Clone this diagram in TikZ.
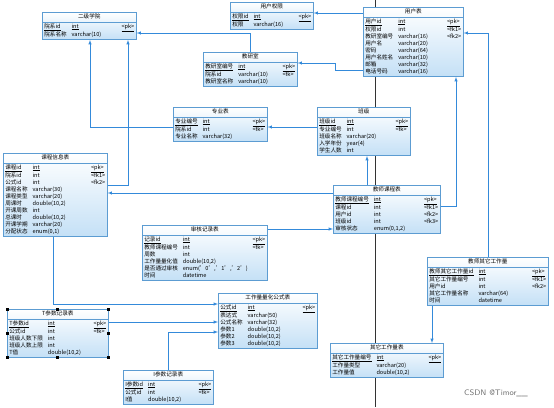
\documentclass[tikz,border=0pt]{standalone}
\usepackage{fontspec}
\setmainfont{Noto Sans CJK SC}
\usepackage{tikz}
\usetikzlibrary{shapes.multipart,arrows}

\definecolor{boxline}{RGB}{92,156,210}
\definecolor{boxfill}{RGB}{196,224,246}
\definecolor{linkblue}{RGB}{52,138,218}

\newcommand{\pkrow}[2]{\underline{#1} & \underline{#2} & \underline{<pk>}\\}
\newcommand{\fields}[1]{\begin{tabular*}{\linewidth}{@{}l@{\hspace{5pt}}l@{\extracolsep{\fill}}l@{}}#1\end{tabular*}}

\begin{document}
\begin{tikzpicture}[
    x=1pt, y=-1pt,
    entity/.style = {rectangle split, rectangle split parts=2, draw=boxline, line width=0.6pt,
        top color=white, bottom color=boxfill, anchor=north west, align=center,
        inner xsep=2pt, inner ysep=1pt, font=\fontsize{5.6}{7}\selectfont},
    fk/.style = {draw=linkblue, line width=0.5pt, -latex},
    handle/.style = {fill=black}
]
    \useasboundingbox (0,0) rectangle (554,407);
    % page border line
    \draw[black!80, line width=0.5pt] (375,0) -- (375,407);

    \node[entity, text width=90pt] (xueyuan) at (42,12) {\strut 二级学院
        \nodepart{two}\fields{\pkrow{院系id}{int}
        院系名称 & varchar(10) & \\}};
    \node[entity, text width=79pt] (quanxian) at (230,2) {\strut 用户权限
        \nodepart{two}\fields{\pkrow{权限id}{int}
        权限 & varchar(16) & \\}};
    \node[entity, text width=96pt] (yonghu) at (363,7) {\strut 用户表
        \nodepart{two}\fields{\pkrow{用户id}{int}
        权限id & int & <fk1>\\
        教研室编号 & varchar(16) & <fk2>\\
        用户名 & varchar(20) & \\
        密码 & varchar(64) & \\
        用户名姓名 & varchar(10) & \\
        邮箱 & varchar(32) & \\
        电话号码 & varchar(16) & \\}};
    \node[entity, text width=90pt] (jiaoyanshi) at (203,52) {\strut 教研室
        \nodepart{two}\fields{\pkrow{教研室编号}{int}
        院系id & varchar(10) & <fk>\\
        教研室名称 & varchar(10) & \\}};
    \node[entity, text width=90pt] (zhuanye) at (173,107) {\strut 专业表
        \nodepart{two}\fields{\pkrow{专业编号}{int}
        院系id & int & <fk>\\
        专业名称 & varchar(32) & \\}};
    \node[entity, text width=89pt] (banji) at (317,107) {\strut 班级
        \nodepart{two}\fields{\pkrow{班级id}{int}
        专业编号 & int & <fk>\\
        班级名称 & varchar(20) & \\
        入学年份 & year(4) & \\
        学生人数 & int & \\}};
    \node[entity, text width=100pt] (kecheng) at (3,153) {\strut 课程信息表
        \nodepart{two}\fields{\pkrow{课程id}{int}
        院系id & int & <fk1>\\
        公式id & int & <fk2>\\
        课程名称 & varchar(30) & \\
        课程类型 & varchar(20) & \\
        周课时 & double(10,2) & \\
        开课周数 & int & \\
        总课时 & double(10,2) & \\
        开课学期 & varchar(20) & \\
        分配状态 & enum(0,1) & \\}};
    \node[entity, text width=103pt] (jskc) at (333,185) {\strut 教师课程表
        \nodepart{two}\fields{\pkrow{教师课程编号}{int}
        课程id & int & <fk1>\\
        用户id & int & <fk2>\\
        班级id & int & <fk3>\\
        审核状态 & enum(0,1,2) & \\}};
    \node[entity, text width=121pt] (shenhe) at (142,225) {\strut 审核记录表
        \nodepart{two}\fields{\pkrow{记录id}{int}
        教师课程编号 & int & <fk>\\
        周数 & int & \\
        工作量量化值 & double(10,2) & \\
        是否通过审核 & enum('0','1','2') & \\
        时间 & datetime & \\}};
    \node[entity, text width=117pt] (qtgzl) at (427,257) {\strut 教师其它工作量
        \nodepart{two}\fields{\pkrow{教师其它工作量id}{int}
        其它工作量编号 & int & <fk1>\\
        用户id & int & <fk2>\\
        其它工作量名称 & varchar(64) & \\
        时间 & datetime & \\}};
    \node[entity, text width=97pt] (tcanshu) at (7,309) {\strut T参数记录表
        \nodepart{two}\fields{\pkrow{T参数id}{int}
        公式id & int & <fk>\\
        班级人数下限 & int & \\
        班级人数上限 & int & \\
        T值 & double(10,2) & \\}};
    \node[entity, text width=95pt] (gongshi) at (218,293) {\strut 工作量量化公式表
        \nodepart{two}\fields{\pkrow{公式id}{int}
        表达式 & varchar(50) & \\
        公式名称 & varchar(32) & \\
        参数1 & double(10,2) & \\
        参数2 & double(10,2) & \\
        参数3 & double(10,2) & \\}};
    \node[entity, text width=109pt] (qtbiao) at (330,343) {\strut 其它工作量表
        \nodepart{two}\fields{\pkrow{其它工作量编号}{int}
        工作量类型 & varchar(20) & \\
        工作量值 & double(10,2) & \\}};
    \node[entity, text width=86pt] (icanshu) at (123,370) {\strut I参数记录表
        \nodepart{two}\fields{\pkrow{I参数id}{int}
        公式id & int & <fk>\\
        I值 & double(10,2) & \\}};

    % references
    \draw[fk] (yonghu.west |- 0,13) -- (quanxian.east |- 0,13);
    \draw[fk] (yonghu.west |- 0,70) -- (335,70) |- (jiaoyanshi.east |- 0,63);
    \draw[fk] (250,0 |- jiaoyanshi.north) |- (xueyuan.east |- 0,33);
    \draw[fk] (zhuanye.west |- 0,127) -| (90,0 |- xueyuan.south);
    \draw[fk] (kecheng.east |- 0,185) -| (128,0 |- xueyuan.south);
    \draw[fk] (banji.west |- 0,127) -- (zhuanye.east |- 0,127);
    \draw[fk] (jskc.west |- 0,193) -- (kecheng.east |- 0,193);
    \draw[fk] (jskc.east |- 0,206) -| (456,0 |- yonghu.south);
    \draw[fk] (367,0 |- jskc.north) -- (367,0 |- banji.south);
    \draw[fk] (shenhe.east |- 0,229) -- (jskc.west |- 0,229);
    \draw[fk] (488,0 |- qtgzl.north) |- (yonghu.east |- 0,33);
    \draw[fk] (432,0 |- qtgzl.south) -- (432,0 |- qtbiao.north);
    \draw[fk] (53,0 |- kecheng.south) |- (gongshi.west |- 0,304);
    \draw[fk] (tcanshu.east |- 0,322) -- (gongshi.west |- 0,322);
    \draw[fk] (168,0 |- icanshu.north) |- (gongshi.west |- 0,332);

    % selection handles
    \foreach \a in {north west,north,north east,west,east,south west,south,south east}
        \fill[handle] (tcanshu.\a) ++(-1.5,-1.5) rectangle ++(3,3);

    \node[text=black!55, font=\fontsize{8}{9}\selectfont\sffamily] (mark) at (496,393) {CSDN @Timor\_\_};
\end{tikzpicture}
\end{document}
